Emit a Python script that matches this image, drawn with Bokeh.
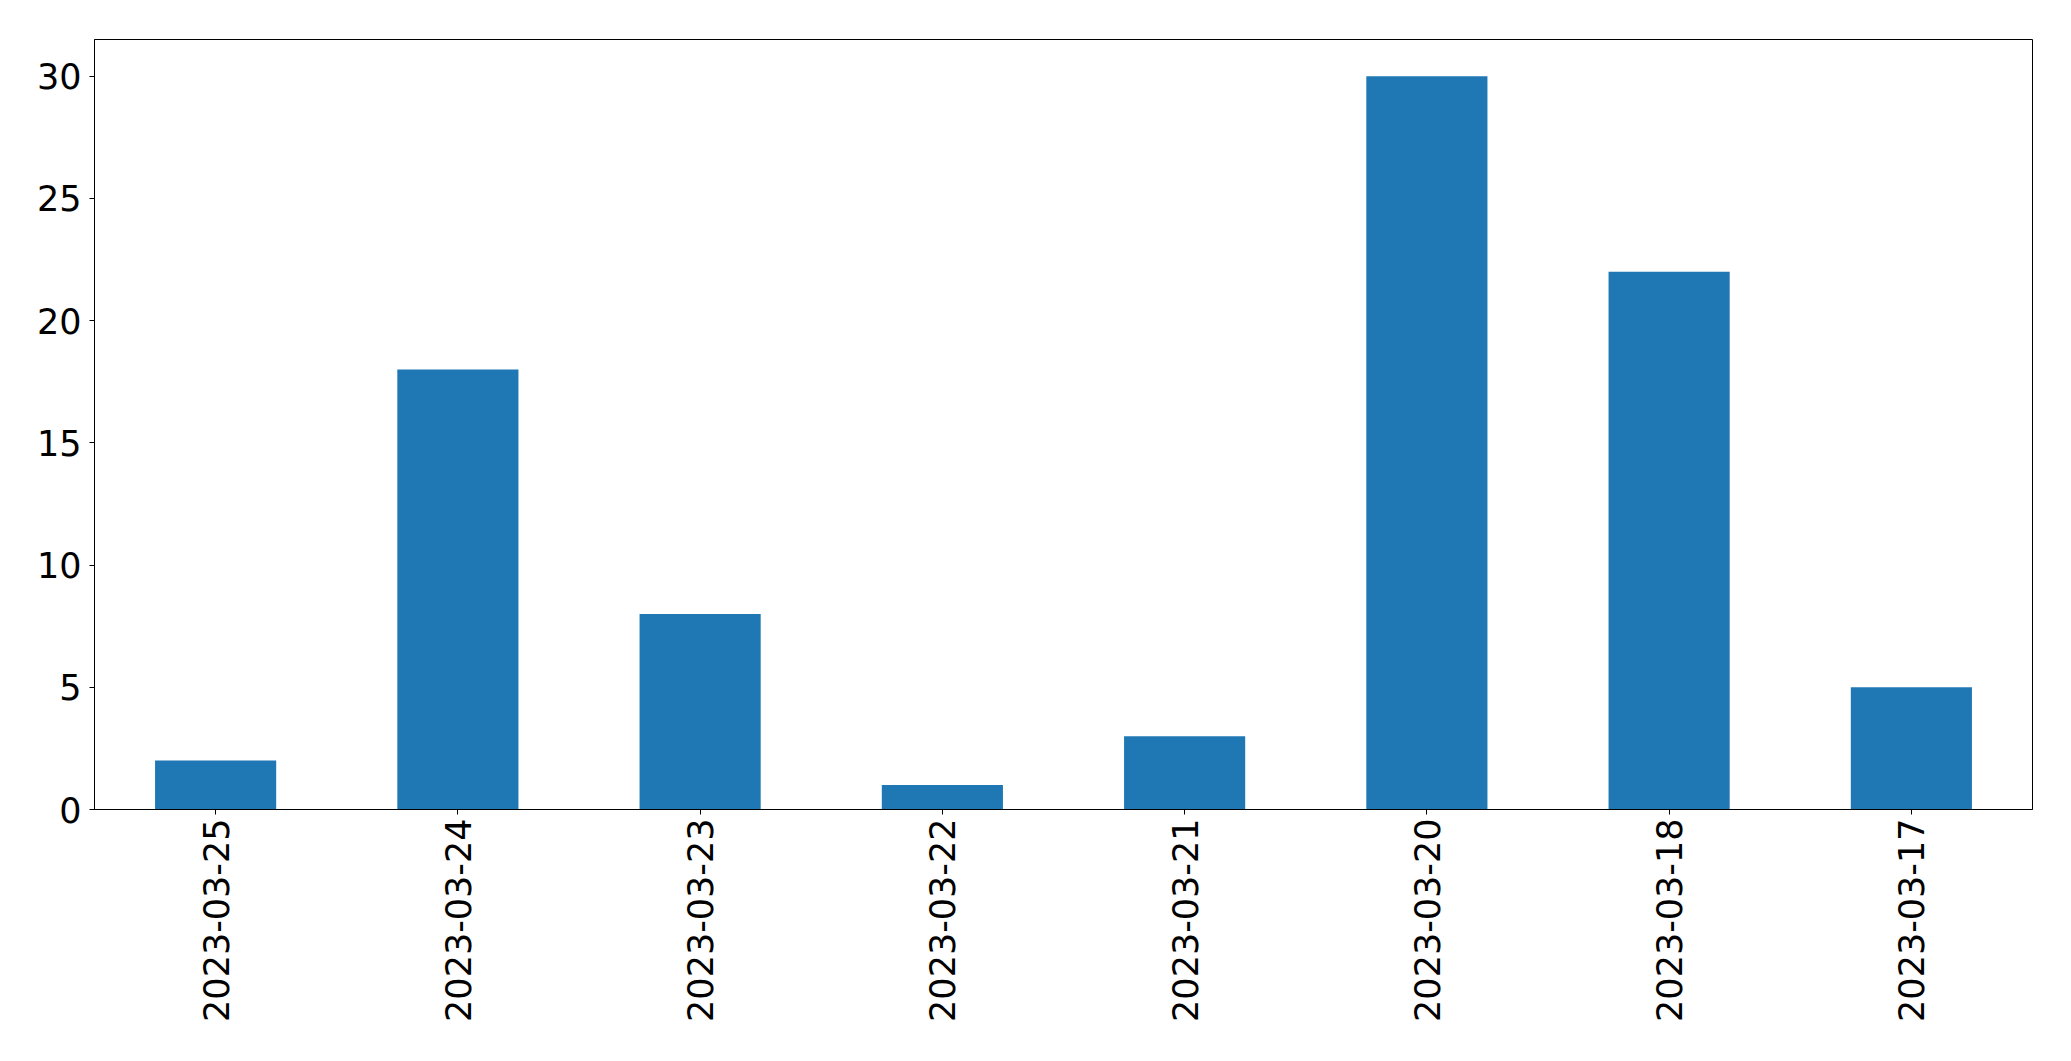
import math
from bokeh.plotting import figure
from bokeh.models import FactorRange, Range1d, FixedTicker, ColumnDataSource
from bokeh.embed import file_html
from bokeh.resources import INLINE

dates = ["2023-03-25", "2023-03-24", "2023-03-23", "2023-03-22",
         "2023-03-21", "2023-03-20", "2023-03-18", "2023-03-17"]
counts = [2, 18, 8, 1, 3, 30, 22, 5]
y_ticks = [0, 5, 10, 15, 20, 25, 30]

source = ColumnDataSource(data=dict(date=dates, count=counts))

p = figure(x_range=FactorRange(factors=dates, range_padding=0),
           y_range=Range1d(0, 31.5),
           frame_width=1938, frame_height=770,
           min_border_left=94, min_border_top=39, min_border_right=20,
           min_border_bottom=230,
           output_backend="svg", toolbar_location=None)

p.vbar(x="date", top="count", width=0.5, source=source,
       fill_color="#1f77b4", line_color=None)

p.xgrid.visible = False
p.ygrid.visible = False
p.outline_line_color = "black"
p.outline_line_width = 1
p.background_fill_color = "white"
p.border_fill_color = "white"

p.yaxis.ticker = FixedTicker(ticks=y_ticks)
for ax in (p.xaxis[0], p.yaxis[0]):
    ax.axis_line_color = "black"
    ax.major_tick_out = 5
    ax.major_tick_in = 0
    ax.minor_tick_line_color = None
    ax.major_tick_line_color = "black"
    ax.major_label_text_font = "DejaVu Sans"
    ax.major_label_text_font_size = "35px"
    ax.major_label_text_color = "black"

p.xaxis.major_label_orientation = math.pi / 2
p.xaxis.major_label_standoff = 4
p.yaxis.major_label_standoff = 8

open("out.html", "w").write(file_html(p, INLINE))
